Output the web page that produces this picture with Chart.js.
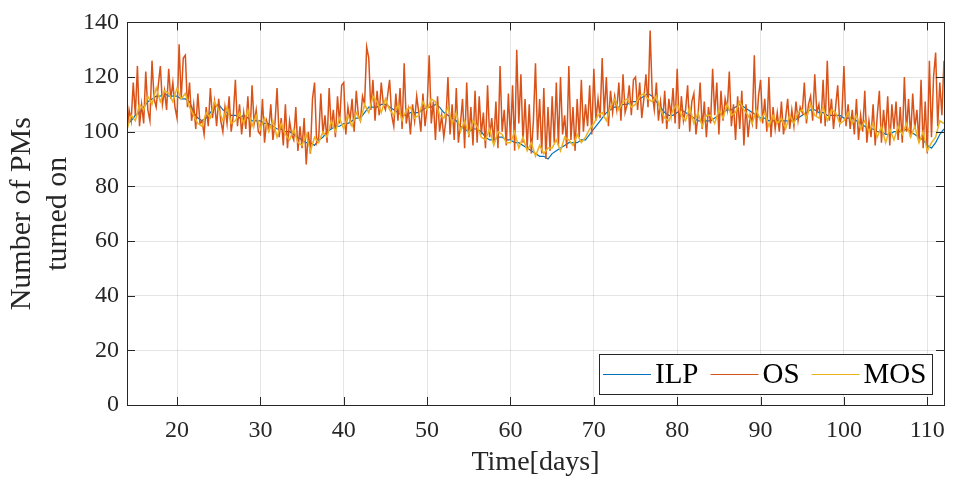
<!DOCTYPE html>
<html>
<head>
<meta charset="utf-8">
<script src="https://cdn.jsdelivr.net/npm/chart.js@4/dist/chart.umd.min.js"></script>
<style>
  body { margin: 0; background: #fff; }
  #wrap { width: 956px; height: 484px; }
</style>
</head>
<body>
<div id="wrap"><canvas id="grafico" width="956" height="484"></canvas></div>
<script>
// series names and colours (MATLAB default order)
const seriesNames = ['ILP', 'OS', 'MOS'];
const seriesColors = ['#0072BD', '#D95319', '#EDB120'];

// time axis: first sample at day 14, then a fixed step per series
const startDay = 14;
const ilpStep = 0.5;
const osStep = 0.25;
const mosStep = 0.5;

// number of PMs turned on, ILP (one value per half day, day 14 -> 112)
const ilpValues = [
  103,104, 106,107, 109,111, 112,113, 113,114, 113,113, 113,112, 112,111, 107,105, 104,105,
  107,109, 110,108, 107,106, 106,105, 106,105, 104,104, 104,103, 103,102, 101,101, 100,100,
  99,98, 97,96, 96,95, 97,98, 100,101, 102,102, 103,103, 104,105, 105,107, 109,109,
  109,110, 110,109, 108,107, 106,106, 107,107, 107,108, 109,109, 110,109, 107,106, 105,104,
  102,101, 100,101, 101,100, 98,97, 97,98, 98,97, 97,96, 96,95, 94,93, 92,91,
  91,90, 92,93, 94,95, 96,96, 96,97, 97,99, 101,103, 105,107, 108,109, 109,110,
  110,111, 111,112, 113,114, 113,111, 109,107, 106,106, 107,108, 107,106, 105,104, 104,104,
  104,105, 106,107, 108,108, 109,110, 109,108, 107,106, 105,105, 104,104, 104,104, 104,104,
  104,105, 106,107, 108,108, 107,107, 106,106, 106,106, 105,105, 105,104, 103,102, 101,101,
  100,100, 99,99, 100,100, 100,101, 100,99, 98,97, 95,94, 96,99,
  101
];

// OS (one value per quarter day, day 14 -> 112)
const osValues = [
  100,108,104,118, 106,124,102,110, 103,122,108,104, 126,112,109,117, 124,110,115,108,
  123,112,118,109, 105,132,112,127, 128,109,118,104, 110,101,114,103, 104,99,109,102,
  116,105,111,102, 112,104,100,109, 103,113,100,106, 119,102,110,99, 107,101,113,98,
  117,103,108,100, 99,112,96,104, 101,110,97,103, 116,98,105,95, 110,94,104,99,
  97,109,93,102, 94,105,88,100, 92,112,118,96, 98,114,99,106, 96,116,101,108,
  98,113,103,117, 118,99,109,104, 112,100,115,106, 104,113,110,131, 127,108,119,104,
  115,106,118,110, 108,113,119,106, 102,114,104,116, 101,125,103,108, 99,110,104,113,
  107,100,114,102, 109,128,103,111, 97,113,100,106, 98,104,120,99, 110,97,116,96,
  103,112,94,118, 98,109,95,115, 96,113,99,107, 94,117,98,105, 96,111,94,124,
  100,108,95,114, 97,117,93,130, 103,121,96,112, 94,110,92,104, 125,97,112,92,
  116,90,109,93, 113,96,118,95, 120,99,106,94, 124,97,109,93, 112,98,119,100,
  110,102,117,99, 123,104,112,105, 127,106,120,102, 115,107,113,108, 118,104,121,107,
  110,117,106,119, 120,108,118,105, 112,121,109,137, 114,108,118,104, 111,103,115,101,
  112,106,116,103, 123,101,113,104, 108,117,100,111, 114,99,106,118, 101,111,98,109,
  103,123,106,118, 99,115,104,112, 108,122,102,110, 97,113,101,115, 95,110,98,106,
  103,128,101,113, 119,103,112,100, 120,98,109,101, 107,100,111,99, 105,112,101,108,
  102,111,104,109, 107,118,103,110, 113,104,121,107, 110,103,119,102, 126,104,112,101,
  109,117,103,106, 124,102,110,101, 108,99,112,97, 106,100,115,96, 104,98,110,95,
  106,115,96,108, 99,113,95,110, 101,111,97,109, 96,120,100,112, 98,114,101,108,
  96,119,94,111, 92,126,98,120, 129,102,118,106,
  126
];

// MOS (one value per half day, day 14 -> 112)
const mosValues = [
  101,106, 104,110, 108,113, 110,116, 111,115, 114,111, 116,112, 114,109, 106,103, 102,107,
  105,111, 108,104, 109,103, 104,107, 103,108, 102,106, 101,105, 100,104, 98,103, 99,97,
  101,96, 95,99, 93,98, 96,100, 98,104, 100,105, 101,106, 102,107, 104,110, 107,113,
  111,107, 112,108, 106,110, 104,108, 109,105, 106,111, 108,112, 111,106, 105,109, 103,107,
  100,104, 99,104, 102,98, 97,101, 95,100, 99,96, 96,100, 94,98, 93,96, 91,95,
  92,94, 94,97, 93,98, 97,95, 99,96, 98,101, 103,106, 107,104, 109,112, 108,111,
  112,109, 110,113, 114,112, 111,113, 108,105, 104,108, 110,106, 104,109, 103,107, 102,106,
  106,103, 108,105, 110,106, 107,111, 108,106, 103,108, 104,107, 102,106, 103,105, 101,106,
  103,107, 108,105, 110,106, 105,109, 104,108, 107,103, 104,107, 103,106, 101,104, 100,103,
  98,102, 96,101, 97,102, 99,103, 98,102, 96,100, 93,96, 98,104,
  103
];

// axis ticks
const xTicks = [20, 30, 40, 50, 60, 70, 80, 90, 100, 110];
const yTicks = [0, 20, 40, 60, 80, 100, 120, 140];

const fonte = "'Liberation Serif', 'Times New Roman', serif";
const corEixo = '#262626';

function paraPontos(valores, passo) {
  return valores.map((v, i) => ({ x: startDay + i * passo, y: v }));
}

// box around the plot + inward tick marks on all four sides
const caixaEixos = {
  id: 'caixaEixos',
  afterDatasetsDraw(chart) {
    const { ctx, chartArea: a, scales } = chart;
    const tl = 8;
    ctx.save();
    ctx.strokeStyle = corEixo;
    ctx.lineWidth = 1;
    ctx.beginPath();
    scales.x.ticks.forEach(t => {
      const px = Math.round(scales.x.getPixelForValue(t.value)) + 0.5;
      ctx.moveTo(px, a.bottom); ctx.lineTo(px, a.bottom - tl);
      ctx.moveTo(px, a.top); ctx.lineTo(px, a.top + tl);
    });
    scales.y.ticks.forEach(t => {
      const py = Math.round(scales.y.getPixelForValue(t.value)) + 0.5;
      ctx.moveTo(a.left, py); ctx.lineTo(a.left + tl, py);
      ctx.moveTo(a.right, py); ctx.lineTo(a.right - tl, py);
    });
    ctx.stroke();
    ctx.strokeRect(Math.round(a.left) + 0.5, Math.round(a.top) + 0.5,
      Math.round(a.right - a.left), Math.round(a.bottom - a.top));
    ctx.restore();
  }
};

// MATLAB-like horizontal legend in the lower right corner
const legendaCaixa = {
  id: 'legendaCaixa',
  afterDraw(chart) {
    const { ctx, chartArea: a } = chart;
    const ds = chart.data.datasets;
    ctx.save();
    ctx.font = '29px ' + fonte;
    const linha = 48, pad = 4, gap = 4, sep = 12;
    let largura = pad;
    ds.forEach((d, i) => {
      largura += linha + gap + ctx.measureText(d.label).width + (i < ds.length - 1 ? sep : 0);
    });
    largura = Math.round(largura + 6);
    const altura = 40;
    const direita = Math.round(a.right) - 12, baixo = Math.round(a.bottom) - 11;
    const x0 = direita - largura, y0 = baixo - altura;
    ctx.fillStyle = '#fff';
    ctx.fillRect(x0, y0, largura, altura);
    ctx.strokeStyle = corEixo;
    ctx.lineWidth = 1;
    ctx.strokeRect(x0 + 0.5, y0 + 0.5, largura, altura);
    let x = x0 + pad;
    const ym = y0 + altura / 2 + 0.5;
    ds.forEach(d => {
      ctx.strokeStyle = d.borderColor;
      ctx.beginPath();
      ctx.moveTo(x, ym); ctx.lineTo(x + linha, ym);
      ctx.stroke();
      x += linha + gap;
      ctx.fillStyle = '#000';
      ctx.textBaseline = 'middle';
      ctx.fillText(d.label, x, ym + 1);
      x += ctx.measureText(d.label).width + sep;
    });
    ctx.restore();
  }
};

const ctx = document.getElementById('grafico').getContext('2d');
new Chart(ctx, {
  type: 'line',
  data: {
    datasets: [
      { label: seriesNames[0], data: paraPontos(ilpValues, ilpStep), borderColor: seriesColors[0], borderWidth: 1.2, order: 3 },
      { label: seriesNames[1], data: paraPontos(osValues, osStep), borderColor: seriesColors[1], borderWidth: 1.5, order: 2 },
      { label: seriesNames[2], data: paraPontos(mosValues, mosStep), borderColor: seriesColors[2], borderWidth: 1.5, order: 1 }
    ]
  },
  options: {
    responsive: false,
    animation: false,
    parsing: false,
    layout: { padding: { left: 0, right: 7, top: 18, bottom: 0 } },
    elements: {
      point: { radius: 0 },
      line: { tension: 0, fill: false }
    },
    plugins: {
      legend: { display: false },
      tooltip: { enabled: false }
    },
    scales: {
      x: {
        type: 'linear',
        min: 14,
        max: 112,
        afterBuildTicks: axis => { axis.ticks = xTicks.map(v => ({ value: v })); },
        afterFit: s => { s.height = 79; },
        grid: { color: 'rgba(38,38,38,0.12)', drawTicks: false },
        border: { display: false },
        ticks: { color: corEixo, padding: 11, maxRotation: 0, font: { family: fonte, size: 24 } },
        title: {
          display: true,
          text: 'Time[days]',
          color: corEixo,
          padding: { top: 0, bottom: 5 },
          font: { family: fonte, size: 28 }
        }
      },
      y: {
        min: 0,
        max: 140,
        afterBuildTicks: axis => { axis.ticks = yTicks.map(v => ({ value: v })); },
        afterFit: s => { s.width = 127; },
        grid: { color: 'rgba(38,38,38,0.12)', drawTicks: false },
        border: { display: false },
        ticks: { color: corEixo, padding: 8, font: { family: fonte, size: 24 } },
        title: {
          display: true,
          text: ['Number of PMs', 'turned on'],
          color: corEixo,
          padding: { top: 4, bottom: 0 },
          font: { family: fonte, size: 30, lineHeight: 1.2 }
        }
      }
    }
  },
  plugins: [caixaEixos, legendaCaixa]
});
</script>
</body>
</html>
